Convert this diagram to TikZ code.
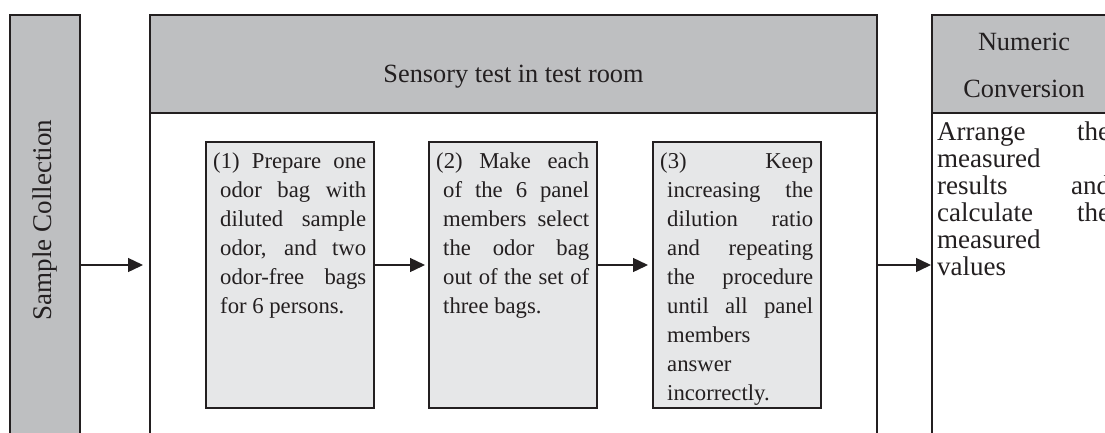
\documentclass[tikz,border=0pt]{standalone}
\usepackage{fontspec}
\setmainfont{Liberation Serif}
\usetikzlibrary{arrows.meta}
\definecolor{ink}{HTML}{231F20}
\definecolor{hdr}{HTML}{BEBFC1}
\definecolor{pale}{HTML}{E6E7E8}
\newcommand\jline[1]{\hbox to\hsize{#1}}
\newcommand\fline[1]{\hbox to\hsize{#1\hfil}}
\begin{document}
\begin{tikzpicture}[x=1pt,y=-1pt,
  frame/.style={draw=ink,line width=2.2pt,inner sep=0pt,outer sep=0pt,anchor=north west},
  stepbox/.style={draw=ink,fill=pale,line width=1.8pt,inner sep=0pt,outer sep=0pt,anchor=north west,minimum width=168pt,minimum height=266pt},
  body/.style={inner sep=0pt,anchor=base west,text=ink,font=\fontsize{22.7}{29}\selectfont},
  hd/.style={inner sep=0pt,anchor=base,text=ink,font=\fontsize{26.3}{30}\selectfont},
  arr/.style={draw=ink,line width=1.4pt,-{Triangle[length=15pt,width=14pt]}}]
\clip (0,0) rectangle (1105,432);
\fill[white] (0,0) rectangle (1105,432);
% left column
\node[frame,fill=hdr,minimum width=70pt,minimum height=440pt] (sc) at (10,15) {};
\node[hd,anchor=center,rotate=90,font=\fontsize{27}{30}\selectfont] (sct) at (45,220) {Sample Collection};
% middle column
\node[frame,minimum width=727pt,minimum height=440pt] (st) at (150,15) {};
\node[frame,fill=hdr,minimum width=727pt,minimum height=98pt] (sth) at (150,15) {};
\node[hd] (stt) at (513.5,82) {Sensory test in test room};
% right column
\node[frame,minimum width=184pt,minimum height=440pt] (nc) at (932,15) {};
\node[frame,fill=hdr,minimum width=184pt,minimum height=98pt] (nch) at (932,15) {};
\node[hd] (nct1) at (1024,50) {Numeric};
\node[hd] (nct2) at (1024,97) {Conversion};
\node[body,font=\fontsize{27}{27}\selectfont] (nctx) at (937,140) {\vtop{\hsize=173pt
  \jline{Arrange the}
  \fline{measured}
  \jline{results and}
  \jline{calculate the}
  \fline{measured}
  \fline{values}}};
% steps
\node[stepbox] (s1) at (206,142) {};
\node[stepbox] (s2) at (429,142) {};
\node[stepbox] (s3) at (653,142) {};
\node[body] (t1) at ([xshift=14pt,yshift=-26pt]s1.north west) {\vtop{\hsize=146pt
  \jline{\kern-7pt(1) Prepare one}
  \jline{odor bag with}
  \jline{diluted sample}
  \jline{odor, and two}
  \jline{odor-free bags}
  \fline{for 6 persons.}}};
\node[body] (t2) at ([xshift=14pt,yshift=-26pt]s2.north west) {\vtop{\hsize=146pt
  \jline{\kern-7pt(2) Make each}
  \jline{of the 6 panel}
  \jline{members select}
  \jline{the odor bag}
  \jline{out of the set of}
  \fline{three bags.}}};
\node[body] (t3) at ([xshift=14pt,yshift=-26pt]s3.north west) {\vtop{\hsize=146pt
  \jline{\kern-7pt(3) Keep}
  \jline{increasing the}
  \jline{dilution ratio}
  \jline{and repeating}
  \jline{the procedure}
  \jline{until all panel}
  \fline{members}
  \fline{answer}
  \fline{incorrectly.}}};
% connectors
\coordinate (ay) at (0,265);
\draw[arr,shorten >=7pt] (sc.east |- ay) -- (st.west |- ay);
\draw[arr,shorten >=4pt] (s1.east |- ay) -- (s2.west |- ay);
\draw[arr,shorten >=5pt] (s2.east |- ay) -- (s3.west |- ay);
\draw[arr,shorten >=1pt] (st.east |- ay) -- (nc.west |- ay);
\end{tikzpicture}
\end{document}
